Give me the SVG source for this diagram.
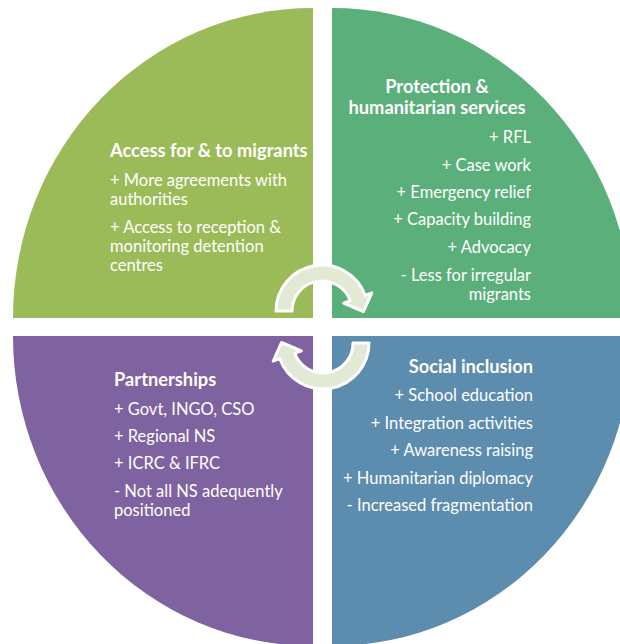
<svg xmlns="http://www.w3.org/2000/svg" xmlns:xlink="http://www.w3.org/1999/xlink" width="620" height="644" viewBox="0 0 620 644">
  <style>
    .t { font-family: "Lato", "Open Sans", sans-serif; font-size: 16.5px; fill: #FFFFFF; }
    .b { font-weight: bold; font-size: 18.3px; }
    .r { text-anchor: end; }
    .c { text-anchor: middle; }
    .arrow { fill: #E2EAD6; stroke: #FFFFFF; stroke-width: 3; stroke-linejoin: round; }
  </style>
  <defs>
    <path id="arrowShape" d="M276,311 A46,46 0 0 1 365.2,295.3 L371.8,292.9 L363.5,311.5 L343.6,303.1 L350.2,300.7 A30,30 0 0 0 292,311 Z"/>
  </defs>
  <rect width="620" height="644" fill="#FFFFFF"/>

  <g id="access">
    <path d="M313,318 L13,318 A300,310 0 0 1 313,8 Z" fill="#9BBB59"/>
    <text class="t b" x="110" y="157">Access for &amp; to migrants</text>
    <text class="t" x="110" y="186">+ More agreements with</text>
    <text class="t" x="110" y="205">authorities</text>
    <text class="t" x="110" y="233">+ Access to reception &amp;</text>
    <text class="t" x="110" y="252">monitoring detention</text>
    <text class="t" x="110" y="271">centres</text>
  </g>

  <g id="protection">
    <path d="M332,318 L332,8 A300,310 0 0 1 632,318 Z" fill="#5BAF7B"/>
    <text class="t b c" x="437" y="93">Protection &amp;</text>
    <text class="t b c" x="437" y="114">humanitarian services</text>
    <text class="t r" x="531" y="143">+ RFL</text>
    <text class="t r" x="531" y="171">+ Case work</text>
    <text class="t r" x="531" y="198">+ Emergency relief</text>
    <text class="t r" x="531" y="225">+ Capacity building</text>
    <text class="t r" x="531" y="253">+ Advocacy</text>
    <text class="t r" x="531" y="281">- Less for irregular</text>
    <text class="t r" x="531" y="300">migrants</text>
  </g>

  <g id="partnerships">
    <path d="M313,336 L313,646 A300,310 0 0 1 13,336 Z" fill="#7F62A0"/>
    <text class="t b" x="114" y="386">Partnerships</text>
    <text class="t" x="114" y="415">+ Govt, INGO, CSO</text>
    <text class="t" x="114" y="442">+ Regional NS</text>
    <text class="t" x="114" y="469">+ ICRC &amp; IFRC</text>
    <text class="t" x="114" y="497">- Not all NS adequently</text>
    <text class="t" x="114" y="516">positioned</text>
  </g>

  <g id="social-inclusion">
    <path d="M332,336 L632,336 A300,310 0 0 1 332,646 Z" fill="#5C8CAE"/>
    <text class="t b r" x="533" y="373">Social inclusion</text>
    <text class="t r" x="533" y="401">+ School education</text>
    <text class="t r" x="533" y="429">+ Integration activities</text>
    <text class="t r" x="533" y="456">+ Awareness raising</text>
    <text class="t r" x="533" y="484">+ Humanitarian diplomacy</text>
    <text class="t r" x="533" y="511">- Increased fragmentation</text>
  </g>

  <g id="connectors">
    <use xlink:href="#arrowShape" class="arrow"/>
    <use xlink:href="#arrowShape" class="arrow" transform="rotate(180 322.5 327)"/>
  </g>
</svg>
